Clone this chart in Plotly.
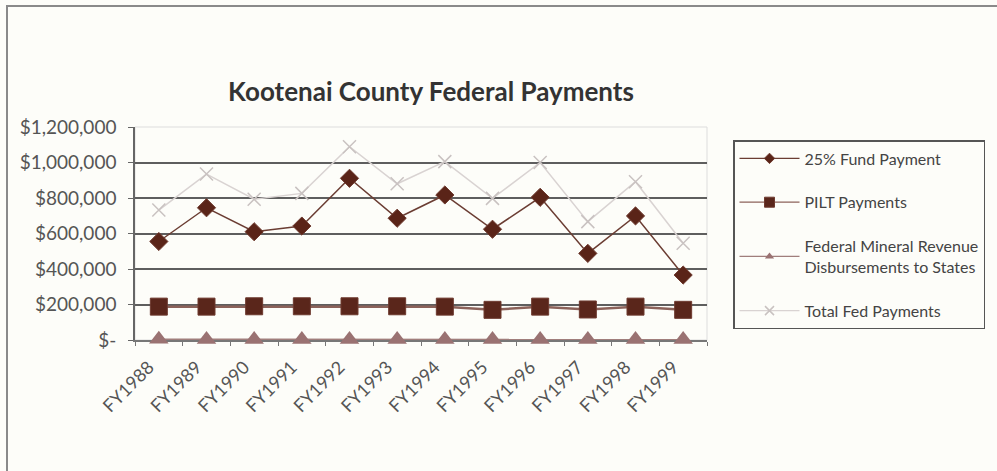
import plotly.graph_objects as go

# Fiscal years on the category axis
years = ["FY1988", "FY1989", "FY1990", "FY1991", "FY1992", "FY1993",
         "FY1994", "FY1995", "FY1996", "FY1997", "FY1998", "FY1999"]

# Payment series (dollars)
fund_25 = [555000, 745000, 610000, 642000, 911000, 686000,
           817000, 624000, 804000, 488000, 699000, 366000]
pilt = [188000, 188000, 190000, 190000, 190000, 190000,
        188000, 170000, 188000, 172000, 188000, 170000]
mineral = [4000, 3500, 3000, 2500, 3000, 2800,
           3200, 2600, 3000, 2400, 2700, 2500]
total_fed = [732000, 935000, 793000, 826000, 1089000, 880000,
             1005000, 798000, 1000000, 667000, 892000, 545000]

# Y-axis ticks
y_tickvals = [0, 200000, 400000, 600000, 800000, 1000000, 1200000]
y_ticktext = ["$-", "$200,000", "$400,000", "$600,000", "$800,000",
              "$1,000,000", "$1,200,000"]

W, H = 997, 471
ML, MR, MT, MB = 135, 290, 127, 131
PW, PH = W - ML - MR, H - MT - MB

BG = "#fdfdf9"
FONT = "Lato"

# name, values, line style, marker style (plot), legend marker size
series = [
    ("25% Fund Payment", fund_25,
     dict(color="#6b3d33", width=1.5),
     dict(symbol="diamond", size=14, color="#5a2418",
          line=dict(color="#6e3a2f", width=1)), 8),
    ("PILT Payments", pilt,
     dict(color="#8c625a", width=2.5),
     dict(symbol="square", size=17, color="#5a261b",
          line=dict(color="#6e3a2f", width=1)), 10),
    ("Federal Mineral Revenue<br>Disbursements to States", mineral,
     dict(color="#a07e7c", width=1.5),
     dict(symbol="triangle-up", size=17, color="#9a7272"), 8),
    ("Total Fed Payments", total_fed,
     dict(color="#d9d3d2", width=1.5),
     dict(symbol="x-thin", size=13, line=dict(color="#c9c2c1", width=1.5)), 9),
]

fig = go.Figure()

# Plotted series (drawn back to front: total, mineral, PILT, 25% fund)
for name, vals, line, marker, _ in reversed(series):
    fig.add_trace(go.Scatter(
        x=years, y=vals, name=name, mode="lines+markers",
        line=line, marker=marker, cliponaxis=False, showlegend=False,
    ))

# Legend entries with thin lines and small symbols
for i, (name, vals, line, marker, lsize) in enumerate(series):
    lm = dict(marker)
    lm["size"] = lsize
    fig.add_trace(go.Scatter(
        x=[None], y=[None], name=name, mode="lines+markers",
        line=dict(color=line["color"], width=1.2), marker=lm,
        legendgroup=f"g{i}", legendrank=i + 1, hoverinfo="skip",
    ))

# Outer frame of the chart area
fig.add_shape(type="rect", xref="paper", yref="paper",
              x0=(7 - ML) / PW, x1=(1010 - ML) / PW,
              y0=(H - MB - 480) / PH, y1=(H - MB - 6) / PH,
              line=dict(color="#8a8a8a", width=2), fillcolor="rgba(0,0,0,0)",
              layer="below")

# Light border around plotting area
fig.add_shape(type="rect", xref="paper", yref="paper", x0=0, x1=1, y0=0, y1=1,
              line=dict(color="#dddddd", width=1), layer="below")

fig.update_layout(
    width=W, height=H,
    margin=dict(l=ML, r=MR, t=MT, b=MB),
    paper_bgcolor=BG, plot_bgcolor=BG,
    font=dict(family=FONT, color="#555555"),
    title=dict(text="<b>Kootenai County Federal Payments</b>",
               x=431 / W, xanchor="center", y=1 - 92 / H, yanchor="middle",
               font=dict(family=FONT, size=26, color="#333333")),
    showlegend=True,
    legend=dict(
        x=(733 - ML) / PW, xanchor="left",
        y=(H - MB - 140) / PH, yanchor="top",
        bordercolor="#555555", borderwidth=1.5, bgcolor=BG,
        font=dict(family=FONT, size=16, color="#444444"),
        tracegroupgap=20, itemwidth=60,
        traceorder="grouped",
    ),
    xaxis=dict(
        type="category", categoryorder="array", categoryarray=years,
        range=[-0.5, len(years) - 0.5], autorange=False,
        tickangle=-45, tickfont=dict(size=18, color="#555555"),
        showgrid=False, showline=True, linecolor="#777777", linewidth=1.5,
        ticks="outside", ticklen=4, tickcolor="#777777",
        tickson="boundaries", zeroline=False, mirror=False,
        ticklabelshift=-10, ticklabelstandoff=8, layer="below traces",
    ),
    yaxis=dict(
        range=[0, 1200000], tickvals=y_tickvals, ticktext=y_ticktext,
        tickfont=dict(size=19, color="#555555"),
        showgrid=True, gridcolor="#5e5e5e", gridwidth=1.5,
        showline=True, linecolor="#666666", linewidth=1.5,
        ticks="outside", ticklen=5, tickcolor="#666666",
        ticklabelstandoff=8, zeroline=False, layer="below traces",
    ),
)

fig.write_html("out.html")
